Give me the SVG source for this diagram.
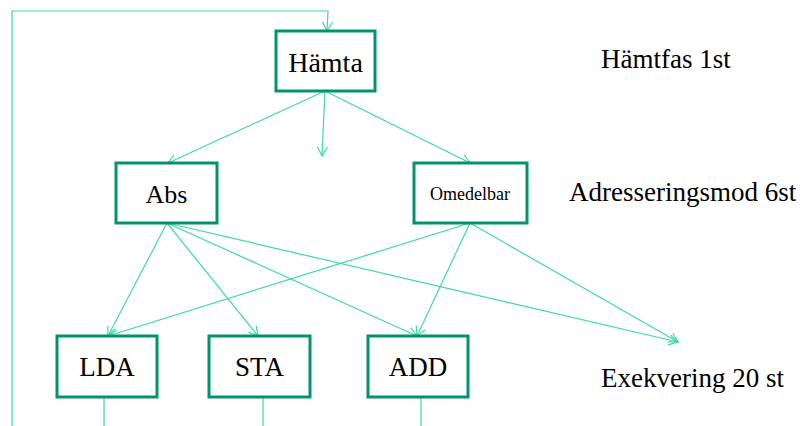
<svg xmlns="http://www.w3.org/2000/svg" width="804" height="426" viewBox="0 0 804 426">
<style>
.box{fill:#fff;stroke:#00936c;stroke-width:3}
.ln{fill:none;stroke:#3fd8a8;stroke-width:1.2}
text{font-family:"Liberation Serif","Times New Roman",serif;fill:#000}
.lbl{font-size:27px}
</style>
<defs>
<marker id="ah" markerWidth="12" markerHeight="12" refX="10" refY="6" orient="auto" markerUnits="userSpaceOnUse">
<path d="M1,1 L10,6 L1,11" fill="none" stroke="#3fd8a8" stroke-width="1.2"/>
</marker>
</defs>
<rect width="804" height="426" fill="#fff"/>
<g id="connectors">
<polyline class="ln" points="12,426 12,11 328,11 327,31" marker-end="url(#ah)"/>
<line class="ln" x1="325" y1="91" x2="168" y2="163" marker-end="url(#ah)"/>
<line class="ln" x1="325" y1="91" x2="322" y2="156" marker-end="url(#ah)"/>
<line class="ln" x1="325" y1="91" x2="470" y2="163" marker-end="url(#ah)"/>
<line class="ln" x1="167" y1="223" x2="108" y2="336" marker-end="url(#ah)"/>
<line class="ln" x1="167" y1="223" x2="258" y2="336" marker-end="url(#ah)"/>
<line class="ln" x1="167" y1="223" x2="417" y2="336" marker-end="url(#ah)"/>
<line class="ln" x1="167" y1="223" x2="678" y2="342" marker-end="url(#ah)"/>
<line class="ln" x1="470" y1="223" x2="108" y2="336" marker-end="url(#ah)"/>
<line class="ln" x1="470" y1="223" x2="417" y2="336" marker-end="url(#ah)"/>
<line class="ln" x1="470" y1="223" x2="678" y2="342" marker-end="url(#ah)"/>
<line class="ln" x1="104" y1="397" x2="104" y2="426"/>
<line class="ln" x1="263" y1="397" x2="263" y2="426"/>
<line class="ln" x1="421" y1="397" x2="421" y2="426"/>
</g>
<g id="hamta"><rect class="box" x="276" y="31" width="99" height="60"/><text x="325.5" y="72" font-size="28" text-anchor="middle">Hämta</text></g>
<g id="abs"><rect class="box" x="116" y="163" width="101" height="60"/><text x="166.5" y="203" font-size="26" text-anchor="middle">Abs</text></g>
<g id="omedelbar"><rect class="box" x="414" y="163" width="113" height="60"/><text x="470" y="200" font-size="18" text-anchor="middle">Omedelbar</text></g>
<g id="lda"><rect class="box" x="57" y="336" width="100" height="61"/><text x="107" y="376" font-size="27" text-anchor="middle">LDA</text></g>
<g id="sta"><rect class="box" x="209" y="336" width="101" height="61"/><text x="259.5" y="376" font-size="27" text-anchor="middle">STA</text></g>
<g id="add"><rect class="box" x="368" y="336" width="100" height="61"/><text x="418" y="376" font-size="27" text-anchor="middle">ADD</text></g>
<g id="labels">
<text class="lbl" x="601" y="68">Hämtfas 1st</text>
<text class="lbl" x="569" y="201">Adresseringsmod 6st</text>
<text class="lbl" x="601" y="387">Exekvering 20 st</text>
</g>
</svg>
